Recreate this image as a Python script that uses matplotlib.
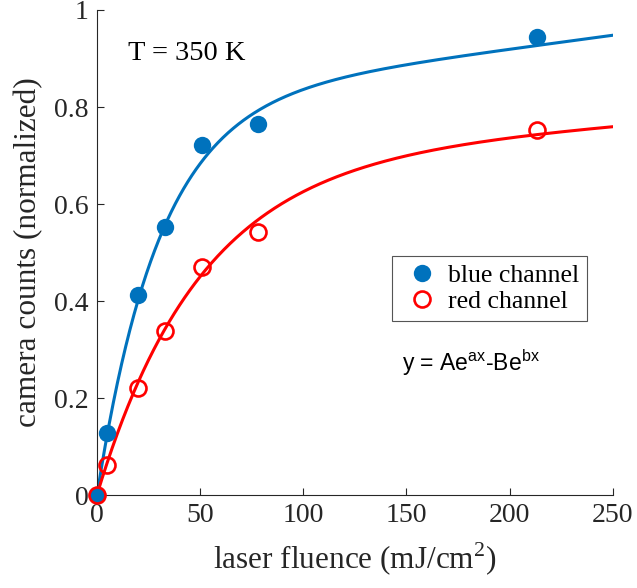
import numpy as np
import matplotlib
matplotlib.use('Agg')
import matplotlib.pyplot as plt

# measured data (normalized camera counts vs laser fluence)
fluence = [0, 4.7, 20.0, 33.2, 51.1, 78.1, 213.1]
blue_counts = [0, 0.127, 0.412, 0.552, 0.722, 0.764, 0.945]
red_counts = [0, 0.063, 0.221, 0.339, 0.471, 0.542, 0.753]

# fit coefficients for y = A*exp(a*x) - B*exp(b*x)
blue_fit = [0.8161, 0.00060, 0.8189, -0.03290]
red_fit = [0.6914, 0.00040, 0.6919, -0.01994]

x_ticks = [0, 50, 100, 150, 200, 250]
y_ticks = [0, 0.2, 0.4, 0.6, 0.8, 1]

plt.rcParams['font.family'] = 'Liberation Serif'
plt.rcParams['mathtext.fontset'] = 'custom'
plt.rcParams['mathtext.rm'] = 'Liberation Serif'
plt.rcParams['mathtext.sf'] = 'Liberation Sans'

BLUE = '#0072BD'
RED = '#FF0000'
GREY = '#262626'

fig = plt.figure(figsize=(6.37, 5.88), dpi=100)
ax = fig.add_axes([0.152, 0.158, 0.81, 0.825])


def expfit(p, x):
    return p[0]*np.exp(p[1]*x) - p[2]*np.exp(p[3]*x)


xf = np.linspace(0, 250, 500)
ax.plot(xf, expfit(blue_fit, xf), color=BLUE, lw=2.2, zorder=2)
ax.plot(xf, expfit(red_fit, xf), color=RED, lw=2.2, zorder=2)

ax.plot(fluence, blue_counts, 'o', color=BLUE, ms=12.5, mew=0,
        label='blue channel', zorder=3, clip_on=False)
ax.plot(fluence, red_counts, 'o', mfc='none', mec=RED, ms=11.5, mew=1.9,
        label='red channel', zorder=4, clip_on=False)

ax.set_xlim(0, 250)
ax.set_ylim(0, 1)
ax.set_xticks(x_ticks)
ax.set_yticks(y_ticks)
ax.set_xticklabels(['%g' % t for t in x_ticks])
ax.set_yticklabels(['%g' % t for t in y_ticks])
ax.tick_params(direction='in', length=5, width=0.8, color=GREY,
               labelcolor=GREY, labelsize=20, pad=6)
for s in ['top', 'right']:
    ax.spines[s].set_visible(False)
for s in ['left', 'bottom']:
    ax.spines[s].set_color(GREY)
    ax.spines[s].set_linewidth(0.8)

ax.set_xlabel('laser fluence (mJ/cm$^{2}$)', fontsize=22.5, color=GREY, labelpad=9)
ax.set_ylabel('camera counts (normalized)', fontsize=22.5, color=GREY, labelpad=8)

ax.text(15, 0.91, 'T = 350 K', fontsize=20.5, va='center')
ax.text(148, 0.272, r'y = Ae$^{\mathsf{ax}}$-Be$^{\mathsf{bx}}$', fontsize=16.5,
        family='Liberation Sans', va='center')

leg = ax.legend(loc='upper left', bbox_to_anchor=(0.572, 0.493), borderaxespad=0,
                fontsize=18.5, fancybox=False, framealpha=1, edgecolor='#555555',
                handlelength=1.75, handletextpad=0.15, borderpad=0.3, labelspacing=0.15)
leg.get_frame().set_linewidth(0.8)

fig.savefig('out.png')
